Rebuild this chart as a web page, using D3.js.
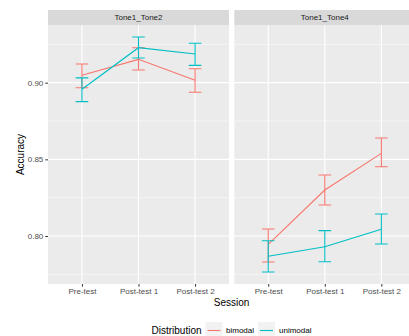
<!DOCTYPE html>
<html><head><meta charset="utf-8">
<script src="https://cdn.jsdelivr.net/npm/d3@7"></script>
<style>body{margin:0;background:#fff;}svg{display:block;font-family:"Liberation Sans",Arial,sans-serif;}</style>
</head><body>
<svg id="c" width="409" height="336"></svg>
<script>
const sessions = ["Pre-test", "Post-test 1", "Post-test 2"];
const panels = ["Tone1_Tone2", "Tone1_Tone4"];
const seriesNames = ["bimodal", "unimodal"];
const colors = ["#F8766D", "#00BFC4"];
// Tone1_Tone2
const t2Bimodal = [0.9048, 0.9152, 0.9016];
const t2BimodalLo = [0.8967, 0.9083, 0.8937];
const t2BimodalHi = [0.9122, 0.9228, 0.9091];
const t2Unimodal = [0.8957, 0.9228, 0.9187];
const t2UnimodalLo = [0.8876, 0.9161, 0.9113];
const t2UnimodalHi = [0.9031, 0.9298, 0.9257];
// Tone1_Tone4
const t4Bimodal = [0.7946, 0.8300, 0.8539];
const t4BimodalLo = [0.7830, 0.8202, 0.8452];
const t4BimodalHi = [0.8046, 0.8398, 0.8639];
const t4Unimodal = [0.7868, 0.7930, 0.8044];
const t4UnimodalLo = [0.7765, 0.7832, 0.7948];
const t4UnimodalHi = [0.7969, 0.8035, 0.8143];
const yTicks = [0.80, 0.85, 0.90];
const yMinor = [0.775, 0.825, 0.875, 0.925];

const panelData = [
  [{m: t2Bimodal, lo: t2BimodalLo, hi: t2BimodalHi}, {m: t2Unimodal, lo: t2UnimodalLo, hi: t2UnimodalHi}],
  [{m: t4Bimodal, lo: t4BimodalLo, hi: t4BimodalHi}, {m: t4Unimodal, lo: t4UnimodalLo, hi: t4UnimodalHi}]
];

const svg = d3.select("#c");
const pTop = 25, pBottom = 284, stripTop = 10;
const pw = 181, gap = 5.3;
const lefts = [48, 48 + pw + gap];
const y = d3.scaleLinear().domain([0.7687, 0.9376]).range([pBottom, pTop]);
const tickCol = "#4D4D4D";

panels.forEach((p, pi) => {
  const x0 = lefts[pi];
  const x = d3.scalePoint().domain(sessions).range([x0, x0 + pw]).padding(0.6);
  const g = svg.append("g");
  g.append("rect").attr("x", x0).attr("y", pTop).attr("width", pw).attr("height", pBottom - pTop).attr("fill", "#EBEBEB");
  g.append("rect").attr("x", x0).attr("y", stripTop).attr("width", pw).attr("height", pTop - stripTop).attr("fill", "#D9D9D9");
  g.append("text").attr("x", x0 + pw / 2).attr("y", (stripTop + pTop) / 2).attr("dy", "0.35em")
    .attr("text-anchor", "middle").attr("font-size", 8).attr("fill", "#1A1A1A").text(p);
  g.selectAll(".ymin").data(yMinor).join("line")
    .attr("x1", x0).attr("x2", x0 + pw).attr("y1", d => y(d)).attr("y2", d => y(d))
    .attr("stroke", "#fff").attr("stroke-width", 0.5);
  g.selectAll(".ymaj").data(yTicks).join("line")
    .attr("x1", x0).attr("x2", x0 + pw).attr("y1", d => y(d)).attr("y2", d => y(d))
    .attr("stroke", "#fff").attr("stroke-width", 1.1);
  g.selectAll(".xmaj").data(sessions).join("line")
    .attr("x1", d => x(d)).attr("x2", d => x(d)).attr("y1", pTop).attr("y2", pBottom)
    .attr("stroke", "#fff").attr("stroke-width", 1.1);
  const xa = g.append("g").attr("transform", `translate(0,${pBottom})`)
    .call(d3.axisBottom(x).tickSize(2.7).tickPadding(2));
  xa.select(".domain").remove();
  xa.selectAll("line").attr("stroke", "#333").attr("stroke-width", 1);
  xa.selectAll("text").attr("font-size", 8).attr("fill", tickCol).attr("font-family", "Liberation Sans, Arial, sans-serif");
  panelData[pi].forEach((s, si) => {
    const pts = sessions.map((d, i) => ({x: x(d), m: s.m[i], lo: s.lo[i], hi: s.hi[i]}));
    g.append("path").datum(pts)
      .attr("d", d3.line().x(d => d.x).y(d => y(d.m)))
      .attr("fill", "none").attr("stroke", colors[si]).attr("stroke-width", 1.1);
    const eb = g.append("g").attr("stroke", colors[si]).attr("stroke-width", 1.1).attr("fill", "none");
    eb.selectAll("path").data(pts).join("path")
      .attr("d", d => `M${d.x - 6.3},${y(d.hi)}H${d.x + 6.3}M${d.x},${y(d.hi)}V${y(d.lo)}M${d.x - 6.3},${y(d.lo)}H${d.x + 6.3}`);
  });
});

const ya = svg.append("g").attr("transform", `translate(${lefts[0]},0)`)
  .call(d3.axisLeft(y).tickValues(yTicks).tickFormat(d3.format(".2f")).tickSize(2.7).tickPadding(2));
ya.select(".domain").remove();
ya.selectAll("line").attr("stroke", "#333");
ya.selectAll("text").attr("font-size", 8).attr("fill", tickCol).attr("font-family", "Liberation Sans, Arial, sans-serif");

svg.append("text").attr("transform", `translate(20,${(pTop + pBottom) / 2}) rotate(-90)`)
  .attr("text-anchor", "middle").attr("dy", "0.35em").attr("font-size", 10).attr("fill", "#000").text("Accuracy");
svg.append("text").attr("x", (lefts[0] + lefts[1] + pw) / 2).attr("y", 302.5).attr("dy", "0.35em")
  .attr("text-anchor", "middle").attr("font-size", 10).attr("fill", "#000").text("Session");

const lg = svg.append("g");
lg.append("text").attr("x", 151.5).attr("y", 330).attr("dy", "0.35em").attr("font-size", 10).attr("fill", "#000").text("Distribution");
const keyX = [205.5, 258];
const labX = [226, 279];
seriesNames.forEach((n, i) => {
  lg.append("rect").attr("x", keyX[i]).attr("y", 322).attr("width", 17).attr("height", 17).attr("fill", "#F2F2F2");
  lg.append("line").attr("x1", keyX[i] + 2).attr("x2", keyX[i] + 15).attr("y1", 330.5).attr("y2", 330.5)
    .attr("stroke", colors[i]).attr("stroke-width", 1.1);
  lg.append("text").attr("x", labX[i]).attr("y", 330.5).attr("dy", "0.35em").attr("font-size", 8).attr("fill", "#000").text(n);
});
</script>
</body></html>
